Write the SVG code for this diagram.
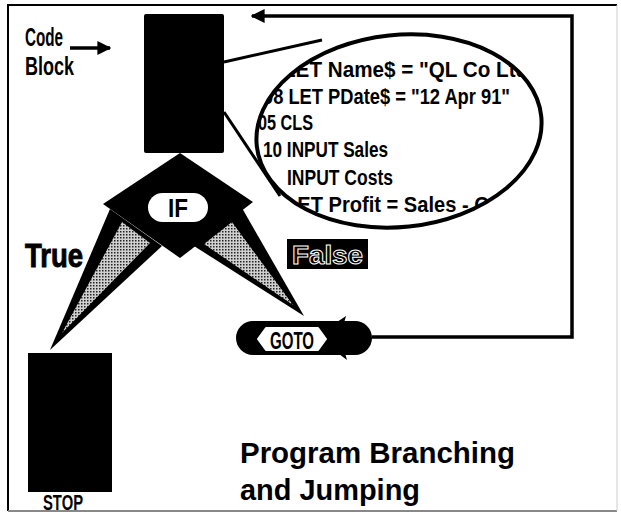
<svg xmlns="http://www.w3.org/2000/svg" width="621" height="521" viewBox="0 0 621 521">
<style>
.lbl{font-family:"Liberation Sans",Arial,sans-serif;font-weight:bold;fill:#000}
.code{font-family:"Liberation Sans",Arial,sans-serif;font-weight:bold;font-size:22px;fill:#000}
.ln{stroke:#000;fill:none}
</style>
<defs>
<pattern id="stip" width="3" height="3" patternUnits="userSpaceOnUse">
<rect width="3" height="3" fill="#d0d0d0"/>
<rect width="1.5" height="1.5" fill="#222"/>
</pattern>
<marker id="ah" viewBox="0 0 10 10" refX="9" refY="5" markerWidth="4" markerHeight="4" orient="auto" markerUnits="strokeWidth">
<path d="M0,0 L10,5 L0,10 Z" fill="#000"/>
</marker>
<clipPath id="ellclip">
<ellipse cx="399" cy="131" rx="143" ry="96" transform="rotate(-6 399 131)"/>
</clipPath>
</defs>
<rect width="621" height="521" fill="#fff"/>
<g id="frame">
<path d="M8,511 V5 H617" class="ln" stroke-width="2"/>
<path d="M8,511 H617" stroke="#888" stroke-width="2" fill="none"/>
<path d="M617,5 V511" stroke="#ccc" stroke-width="1" fill="none"/>
</g>
<g id="connectors">
<path d="M70,48 H110" class="ln" stroke-width="3.5" marker-end="url(#ah)"/>
<path d="M372,337 H572 V16 H252" class="ln" stroke-width="3.5" marker-end="url(#ah)"/>
<path d="M224,62 L322,40" class="ln" stroke-width="3"/>
<path d="M224,112 L280,196" class="ln" stroke-width="3"/>
<g id="true-branch">
<polygon points="110,209 162,246 50,350" fill="#000"/>
<polygon points="122,222 150,243 62,333" fill="url(#stip)"/>
</g>
<g id="false-branch">
<polygon points="242,208 194,246 304,316" fill="#000"/>
<polygon points="232,222 204,244 293,305" fill="url(#stip)"/>
</g>
</g>
<g id="code-label">
<text x="25" y="46" class="lbl" font-size="25" textLength="38" lengthAdjust="spacingAndGlyphs">Code</text>
<text x="25" y="75" class="lbl" font-size="25" textLength="49" lengthAdjust="spacingAndGlyphs">Block</text>
</g>
<g id="code-block">
<rect x="144" y="14" width="80" height="139" rx="2" fill="#000"/>
</g>
<g id="code-zoom">
<g clip-path="url(#ellclip)">
<text x="283" y="77" class="code" textLength="255" lengthAdjust="spacingAndGlyphs">LET Name$ = "QL Co Ltd"</text>
<text x="263" y="104" class="code" textLength="247" lengthAdjust="spacingAndGlyphs">08 LET PDate$ = "12 Apr 91"</text>
<text x="258" y="130" class="code" textLength="55" lengthAdjust="spacingAndGlyphs">05 CLS</text>
<text x="263" y="157" class="code" textLength="125" lengthAdjust="spacingAndGlyphs">10 INPUT Sales</text>
<text x="287" y="185" class="code" textLength="106" lengthAdjust="spacingAndGlyphs">INPUT Costs</text>
<text x="285" y="212" class="code" textLength="245" lengthAdjust="spacingAndGlyphs">LET Profit = Sales - Costs</text>
</g>
<ellipse cx="399" cy="131" rx="143" ry="96" transform="rotate(-6 399 131)" fill="none" stroke="#000" stroke-width="4"/>
</g>
<g id="if-node">
<polygon points="180,153 253,202 180,258 103,204" fill="#000"/>
<rect x="148" y="193" width="60" height="29" rx="14.5" fill="#fff"/>
<text x="178" y="217" class="lbl" font-size="25" text-anchor="middle" textLength="20" lengthAdjust="spacingAndGlyphs">IF</text>
</g>
<g id="true-label">
<text x="25" y="267" class="lbl" font-size="34" stroke="#000" stroke-width="1" textLength="58" lengthAdjust="spacingAndGlyphs">True</text>
</g>
<g id="false-label">
<rect x="287" y="239" width="81" height="30" fill="#000"/>
<text x="292" y="264" class="lbl" font-size="26" fill="#000" stroke="#fff" stroke-width="1" textLength="71" lengthAdjust="spacingAndGlyphs">False</text>
</g>
<g id="goto-node">
<rect x="236" y="321" width="136" height="34" rx="17" fill="#000"/>
<path d="M337,322 L346,316 L344,323 Z M339,354 L347,360 L345,353 Z" fill="#000"/>
<path d="M266,328 L318,328 L326,339 L318,350 L266,350 L258,339 Z" fill="#fff" stroke="#fff" stroke-width="2" stroke-linejoin="round"/>
<text x="292" y="349" class="lbl" font-size="24" text-anchor="middle" textLength="44" lengthAdjust="spacingAndGlyphs">GOTO</text>
</g>
<g id="stop-node">
<rect x="28" y="353" width="84" height="139" fill="#000"/>
<text x="63" y="510" class="lbl" font-size="22" text-anchor="middle" textLength="40" lengthAdjust="spacingAndGlyphs">STOP</text>
</g>
<g id="title">
<text x="240" y="463" class="lbl" font-size="29" textLength="275" lengthAdjust="spacingAndGlyphs">Program Branching</text>
<text x="240" y="500" class="lbl" font-size="29" textLength="180" lengthAdjust="spacingAndGlyphs">and Jumping</text>
</g>
</svg>
